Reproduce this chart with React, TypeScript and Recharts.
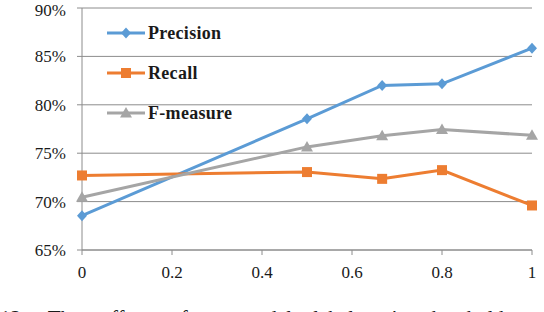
import { Line, LineChart, CartesianGrid, XAxis, YAxis } from 'recharts';

const xValues = [0, 0.5, 0.667, 0.8, 1];
const precision = [68.55, 78.55, 82.0, 82.17, 85.85];
const recall = [72.7, 73.05, 72.35, 73.25, 69.6];
const fMeasure = [70.45, 75.65, 76.8, 77.45, 76.85];
const xTicks = [0, 0.2, 0.4, 0.6, 0.8, 1];
const yTicks = [65, 70, 75, 80, 85, 90];

const data = xValues.map((x, i) => ({
  x,
  precision: precision[i],
  recall: recall[i],
  fMeasure: fMeasure[i],
}));

const BLUE = '#5b9bd5';
const ORANGE = '#ed7d31';
const GRAY = '#a5a5a5';
const AXIS = '#8c8c8c';
const FONT = '"Liberation Serif", "DejaVu Serif", serif';

type Shape = 'diamond' | 'square' | 'triangle';

function marker(cx: number, cy: number, shape: Shape, color: string, key?: string) {
  if (shape === 'diamond') {
    return <path key={key} d={`M${cx},${cy - 5.5}L${cx + 5},${cy}L${cx},${cy + 5.5}L${cx - 5},${cy}Z`} fill={color} />;
  }
  if (shape === 'square') {
    return <rect key={key} x={cx - 5} y={cy - 5} width={10} height={10} fill={color} />;
  }
  return <path key={key} d={`M${cx},${cy - 6}L${cx + 6},${cy + 4.5}L${cx - 6},${cy + 4.5}Z`} fill={color} />;
}

const makeDot = (shape: Shape, color: string) => (props: any) => {
  const { cx, cy, index } = props;
  if (cx == null || cy == null) return <g key={index} />;
  return marker(cx, cy, shape, color, `dot-${shape}-${index}`);
};

const legendItems: { label: string; color: string; shape: Shape }[] = [
  { label: 'Precision', color: BLUE, shape: 'diamond' },
  { label: 'Recall', color: ORANGE, shape: 'square' },
  { label: 'F-measure', color: GRAY, shape: 'triangle' },
];

// legend drawn as an overlay so it doesn't shrink the plot area
function ChartLegend() {
  return (
    <div style={{ position: 'absolute', left: 107, top: 13 }}>
      {legendItems.map((item) => (
        <div key={item.label} style={{ display: 'flex', alignItems: 'center', height: 40 }}>
          <svg width={38} height={12} style={{ display: 'block' }}>
            <line x1={0} y1={6} x2={38} y2={6} stroke={item.color} strokeWidth={3} />
            {marker(19, 6, item.shape, item.color)}
          </svg>
          <span
            style={{
              fontFamily: FONT,
              fontWeight: 'bold',
              fontSize: 18,
              letterSpacing: 0.3,
              color: '#1a1a1a',
              marginLeft: 3,
            }}
          >
            {item.label}
          </span>
        </div>
      ))}
    </div>
  );
}

export default function App() {
  return (
    <div
      style={{
        position: 'absolute',
        left: 0,
        top: 0,
        width: 544,
        height: 312,
        overflow: 'hidden',
        background: '#fff',
      }}
    >
      <LineChart width={544} height={312} data={data} margin={{ top: 8, right: 12, bottom: 32, left: 0 }}>
        <CartesianGrid vertical={false} stroke={AXIS} strokeWidth={1} />
        <XAxis
          dataKey="x"
          type="number"
          domain={[0, 1]}
          ticks={xTicks}
          height={30}
          stroke={AXIS}
          tickSize={5}
          tickMargin={11}
          tick={{ fill: '#1a1a1a', fontSize: 17, fontFamily: FONT }}
        />
        <YAxis
          type="number"
          domain={[65, 90]}
          ticks={yTicks}
          width={82}
          stroke={AXIS}
          tickSize={5}
          tickMargin={11}
          tickFormatter={(v: number) => `${v}%`}
          tick={{ fill: '#1a1a1a', fontSize: 17, fontFamily: FONT }}
        />
        <Line
          dataKey="precision"
          stroke={BLUE}
          strokeWidth={3}
          dot={makeDot('diamond', BLUE)}
          activeDot={false}
          isAnimationActive={false}
        />
        <Line
          dataKey="recall"
          stroke={ORANGE}
          strokeWidth={3}
          dot={makeDot('square', ORANGE)}
          activeDot={false}
          isAnimationActive={false}
        />
        <Line
          dataKey="fMeasure"
          stroke={GRAY}
          strokeWidth={3}
          dot={makeDot('triangle', GRAY)}
          activeDot={false}
          isAnimationActive={false}
        />
      </LineChart>
      <ChartLegend />
      {/* figure caption, cut off by the bottom edge like in the source */}
      <div
        style={{
          position: 'absolute',
          left: 0,
          top: 308,
          fontFamily: FONT,
          fontSize: 21,
          lineHeight: '21px',
          wordSpacing: 16,
          whiteSpace: 'nowrap',
          color: '#1a1a1a',
        }}
      >
        12: The effect of a model label-text's threshold on precision
      </div>
    </div>
  );
}
